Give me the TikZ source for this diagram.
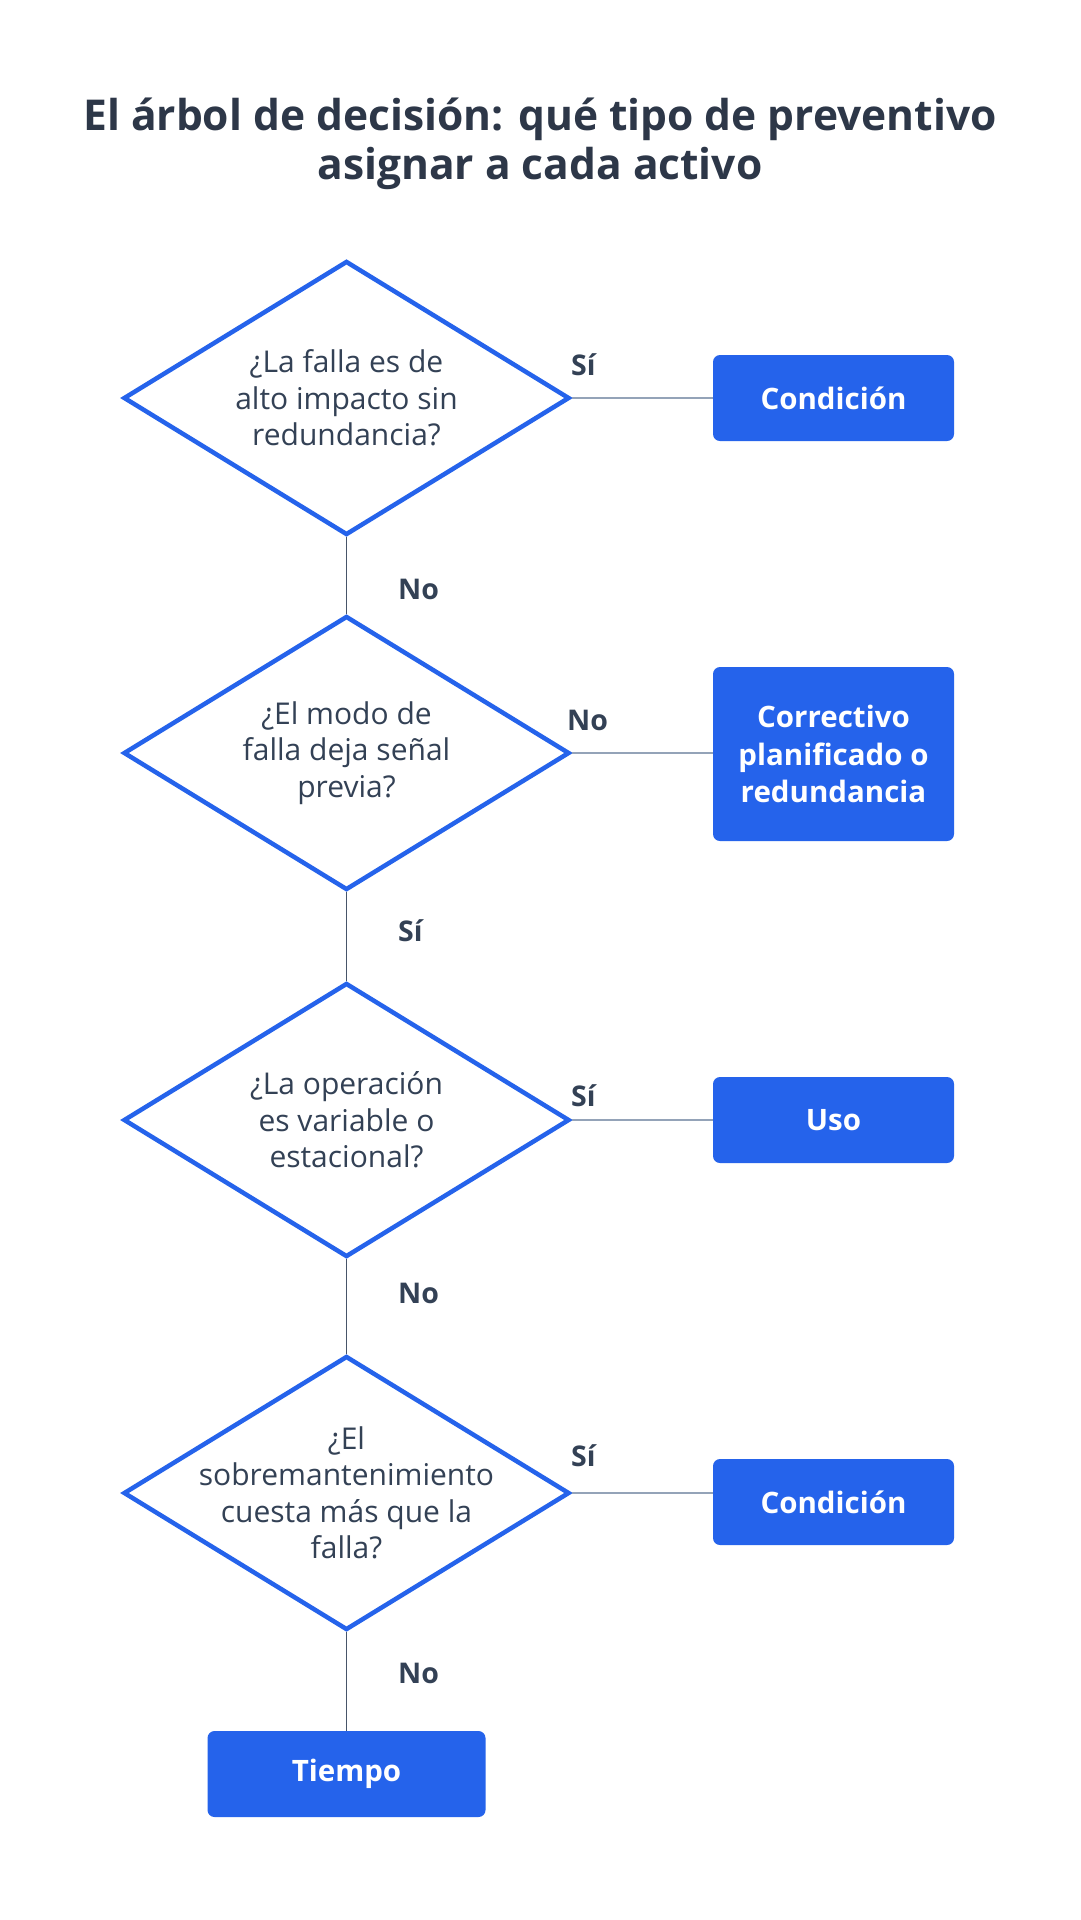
\documentclass[tikz,border=0pt]{standalone}
\usepackage{fontspec}
\setmainfont{Open Sans}
\usetikzlibrary{shapes.geometric, positioning}

\definecolor{flowblue}{HTML}{2563EB}
\definecolor{titleink}{HTML}{2D3748}
\definecolor{bodyink}{HTML}{334155}
\definecolor{sideline}{HTML}{94A3B8}
\definecolor{downline}{HTML}{475569}

\begin{document}
\begin{tikzpicture}[x=1pt,y=-1pt,
  decision node/.style={diamond,draw=flowblue,line width=4.5pt,fill=white,
    minimum width=446pt,minimum height=274pt,inner sep=0pt},
  question/.style={align=center,text=bodyink,font=\fontsize{30}{36.5}\selectfont},
  answer node/.style={rectangle,rounded corners=7pt,fill=flowblue,text=white,
    minimum width=241pt,minimum height=86pt,align=center,
    font=\fontsize{29.5}{37.5}\selectfont\bfseries},
  branch label/.style={text=bodyink,font=\fontsize{28.5}{30}\selectfont\bfseries,inner sep=0pt},
  side line/.style={draw=sideline,line width=2pt},
  down line/.style={draw=downline,line width=1.2pt}]

  \useasboundingbox[fill=white] (0,0) rectangle (1080,1920);

  % title
  \node[text=titleink,align=center,font=\fontsize{42.5}{49}\selectfont\bfseries] (title) at (540,144)
    {El árbol de decisión: qué tipo de preventivo\\asignar a cada activo};

  % decisions
  \node[decision node] (q1) at (346.5,398) {};
  \node[decision node] (q2) at (346.5,753) {};
  \node[decision node] (q3) at (346.5,1120) {};
  \node[decision node] (q4) at (346.5,1493) {};
  \node[question] (q1t) at (q1) {¿La falla es de\\alto impacto sin\\redundancia?};
  \node[question] (q2t) at (q2) {¿El modo de\\falla deja señal\\previa?};
  \node[question] (q3t) at (q3) {¿La operación\\es variable o\\estacional?};
  \node[question] (q4t) at (q4) {¿El\\sobremantenimiento\\cuesta más que la\\falla?};

  % outcomes
  \node[answer node] (a1) at (833.5,398) {Condición};
  \node[answer node,minimum height=174pt] (a2) at (833.5,754) {Correctivo\\planificado o\\redundancia};
  \node[answer node] (a3) at (833.5,1120) {Uso};
  \node[answer node] (a4) at (833.5,1502) {Condición};
  \node[answer node,minimum width=278pt] (a5) at (346.5,1774) {Tiempo};

  % connectors
  \path[side line] (q1.east) -- (a1.west);
  \path[side line] (q2.east) -- (q2.east -| a2.west);
  \path[side line] (q3.east) -- (q3.east -| a3.west);
  \path[side line] (q4.east) -- (q4.east -| a4.west);
  \path[down line] (q1.south) -- (q2.north);
  \path[down line] (q2.south) -- (q3.north);
  \path[down line] (q3.south) -- (q4.north);
  \path[down line] (q4.south) -- (a5.north);

  % branch labels
  \node[branch label,anchor=west] (s1) at (571,365) {Sí};
  \node[branch label,anchor=west] (s2) at (567,720) {No};
  \node[branch label,anchor=west] (s3) at (571,1096) {Sí};
  \node[branch label,anchor=west] (s4) at (571,1456) {Sí};
  \node[branch label,anchor=west] (n1) at (398,589) {No};
  \node[branch label,anchor=west] (n2) at (398,931) {Sí};
  \node[branch label,anchor=west] (n3) at (398,1293) {No};
  \node[branch label,anchor=west] (n4) at (398,1673) {No};
\end{tikzpicture}
\end{document}
